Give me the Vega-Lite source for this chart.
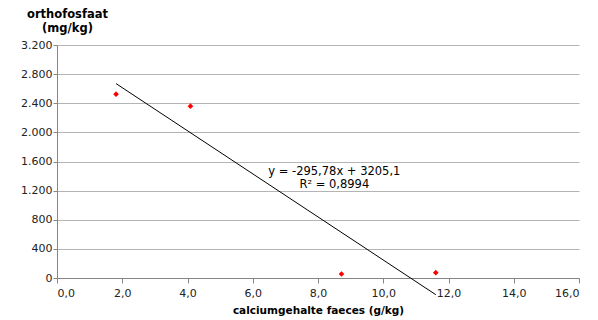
{
  "$schema": "https://vega.github.io/schema/vega-lite/v6.json",
  "width": 522,
  "height": 233,
  "autosize": {"type": "none"},
  "padding": {"left": 57, "top": 45, "right": 19, "bottom": 42},
  "background": "white",
  "config": {"view": {"stroke": null}, "font": "DejaVu Sans"},
  "layer": [
    {
      "data": {"values": [
        {"x": 1.81, "y": 2525},
        {"x": 4.09, "y": 2360},
        {"x": 8.72, "y": 55},
        {"x": 11.61, "y": 73}
      ]},
      "mark": {"type": "point", "shape": "diamond", "filled": true, "color": "#ff0000", "opacity": 1, "size": 32},
      "encoding": {
        "x": {
          "field": "x", "type": "quantitative",
          "scale": {"domain": [0, 16], "nice": false, "zero": false},
          "axis": {
            "title": "calciumgehalte  faeces (g/kg)",
            "values": [0, 2, 4, 6, 8, 10, 12, 14, 16],
            "tickCount": 20,
            "labelExpr": "replace(format(datum.value, '.1f'), '.', ',')",
            "labelOverlap": false,
            "grid": false,
            "domainColor": "#868686",
            "tickColor": "#868686",
            "tickSize": 5,
            "labelPadding": 4,
            "labelFontSize": 11,
            "labelColor": "#222222",
            "labelFont": "DejaVu Sans",
            "titleFont": "DejaVu Sans",
            "titleFontSize": 10.5,
            "titleFontWeight": "bold",
            "titleColor": "#000000",
            "titleBaseline": "alphabetic",
            "titleY": 35
          }
        },
        "y": {
          "field": "y", "type": "quantitative",
          "scale": {"domain": [0, 3200], "nice": false, "zero": false},
          "axis": {
            "title": ["orthofosfaat", "(mg/kg)"],
            "values": [0, 400, 800, 1200, 1600, 2000, 2400, 2800, 3200],
            "tickCount": 20,
            "labelExpr": "replace(format(datum.value, ','), ',', '.')",
            "labelOverlap": false,
            "grid": true,
            "gridColor": "#b4b4b4",
            "gridWidth": 1.2,
            "domainColor": "#868686",
            "tickColor": "#868686",
            "tickSize": 4,
            "labelPadding": 1,
            "labelFontSize": 11,
            "labelColor": "#222222",
            "labelFont": "DejaVu Sans",
            "titleFont": "DejaVu Sans",
            "titleFontSize": 11.5,
            "titleFontWeight": "bold",
            "titleColor": "#000000",
            "titleAngle": 0,
            "titleAlign": "center",
            "titleBaseline": "alphabetic",
            "titleLineHeight": 14,
            "titleX": 10,
            "titleY": -27.5
          }
        }
      }
    },
    {
      "data": {"values": [
        {"x": 1.81, "y": 2670},
        {"x": 11.61, "y": -229}
      ]},
      "mark": {"type": "line", "color": "#000000", "strokeWidth": 1, "clip": false},
      "encoding": {
        "x": {"field": "x", "type": "quantitative"},
        "y": {"field": "y", "type": "quantitative"}
      }
    },
    {
      "data": {"values": [
        {"x": 8.5, "y": 1450, "label": ["y = -295,78x + 3205,1", "R² = 0,8994"]}
      ]},
      "mark": {"type": "text", "align": "center", "baseline": "middle", "fontSize": 11.5, "lineHeight": 12.6, "color": "#000000", "font": "DejaVu Sans"},
      "encoding": {
        "x": {"field": "x", "type": "quantitative"},
        "y": {"field": "y", "type": "quantitative"},
        "text": {"field": "label"}
      }
    }
  ]
}
